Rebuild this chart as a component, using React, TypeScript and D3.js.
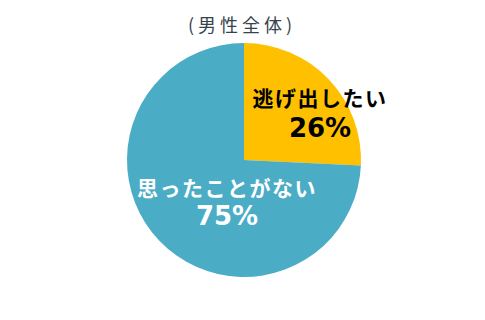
import React from "react";
import * as d3 from "d3";

const categories = ["逃げ出したい", "思ったことがない"];
const values = [26, 75];
const colors = ["#FFC000", "#4BACC6"];
const labelColors = ["#000000", "#FFFFFF"];
const title = "(男性全体)";

const W = 485;
const H = 320;
const cx = 244;
const cy = 160;
const R = 117;

// label anchor offsets from the pie centre, per slice
const labelOffsets = [
  { x: 76, nameY: -63, valueY: -23 },
  { x: -17, nameY: 27, valueY: 65 },
];

export default function App() {
  const pie = d3
    .pie<number>()
    .sort(null)
    .startAngle(0)
    .endAngle(2 * Math.PI);
  const arcs = pie(values);
  const arc = d3.arc<d3.PieArcDatum<number>>().innerRadius(0).outerRadius(R);

  const jp = "'Noto Sans CJK JP', sans-serif";
  const num = "'DejaVu Sans', sans-serif";

  return (
    <svg
      width={W}
      height={H}
      style={{ position: "absolute", left: 0, top: 0, background: "#fff" }}
    >
      <text
        x={242}
        y={24}
        textAnchor="middle"
        dominantBaseline="central"
        fontFamily={jp}
        fontSize={18}
        letterSpacing={4}
        fill="#36434c"
      >
        {title}
      </text>
      <g transform={`translate(${cx},${cy})`}>
        {arcs.map((a, i) => (
          <path key={i} d={arc(a) || ""} fill={colors[i]} />
        ))}
        {arcs.map((a, i) => (
          <g key={"l" + i} fill={labelColors[i]} textAnchor="middle">
            <text
              x={labelOffsets[i].x}
              y={labelOffsets[i].nameY}
              dominantBaseline="central"
              fontFamily={jp}
              fontWeight={700}
              fontSize={21}
              letterSpacing={1.5}
            >
              {categories[i]}
            </text>
            <text
              x={labelOffsets[i].x}
              y={labelOffsets[i].valueY}
              fontFamily={num}
              fontWeight={700}
              fontSize={26}
            >
              {`${a.data}%`}
            </text>
          </g>
        ))}
      </g>
    </svg>
  );
}
